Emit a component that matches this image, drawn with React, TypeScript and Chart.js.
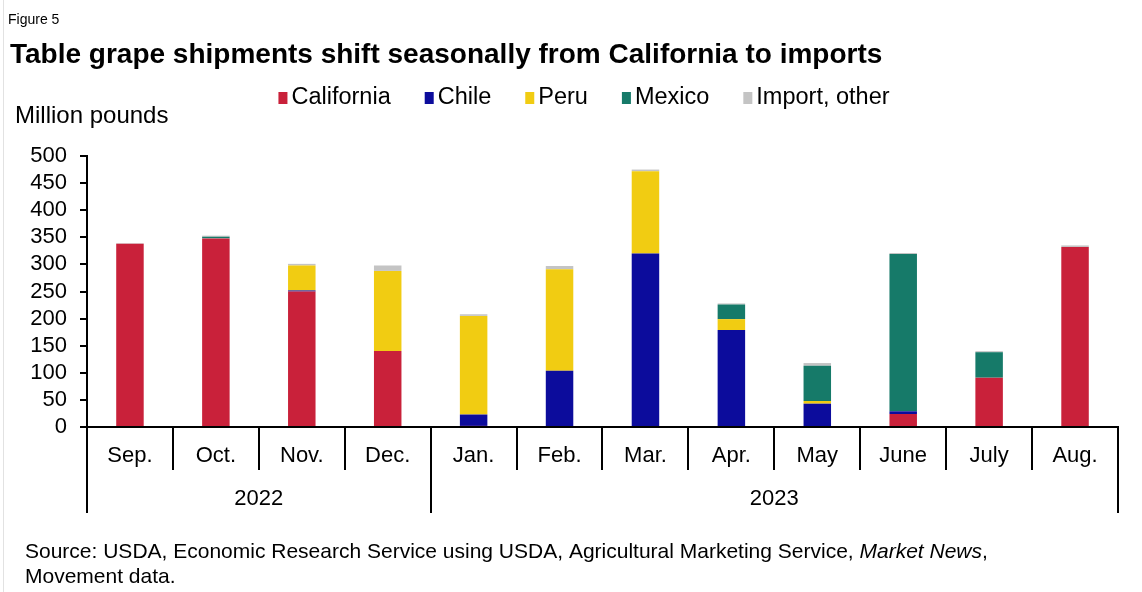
import React, { useEffect, useRef } from "react";
import { Chart, registerables } from "chart.js";

Chart.register(...registerables);

const months = ["Sep.", "Oct.", "Nov.", "Dec.", "Jan.", "Feb.", "Mar.", "Apr.", "May", "June", "July", "Aug."];
const years = ["2022", "2023"];
const yearSpans = [4, 8];

const seriesNames = ["California", "Chile", "Peru", "Mexico", "Import, other"];
const california = [338, 348, 250, 140, 2, 0, 0, 0, 0, 24, 91, 332];
const chile = [0, 0, 2, 0, 21, 104, 320, 179, 43, 5, 0, 0];
const peru = [0, 0, 46, 148, 182, 187, 152, 20, 5, 0, 0, 0];
const mexico = [0, 3, 0, 0, 0, 0, 0, 27, 65, 290, 47, 0];
const importOther = [1, 2, 3, 10, 3, 6, 3, 2, 5, 2, 2, 3];
const seriesColors = ["#c9213a", "#0c0c9c", "#f1cc12", "#167a69", "#c4c4c4"];

const yMin = 0;
const yMax = 500;
const yStep = 50;

const figureLabel = "Figure 5";
const titleText = "Table grape shipments shift seasonally from California to imports";
const yAxisLabel = "Million pounds";
const sourceLine1a = "Source: USDA, Economic Research Service using USDA, Agricultural Marketing Service, ";
const sourceLine1b = "Market News";
const sourceLine1c = ",";
const sourceLine2 = "Movement data.";

const FONT = "'Liberation Sans', Arial, sans-serif";

const decorPlugin = {
  id: "decor",
  afterDraw(chart: any) {
    const ctx = chart.ctx as CanvasRenderingContext2D;
    const area = chart.chartArea;
    const xs = chart.scales.x;
    ctx.save();

    // faint left frame line
    ctx.strokeStyle = "#e2e2e2";
    ctx.lineWidth = 1;
    ctx.beginPath();
    ctx.moveTo(3.5, 0);
    ctx.lineTo(3.5, 592);
    ctx.stroke();

    ctx.fillStyle = "#000";
    ctx.textBaseline = "middle";
    ctx.textAlign = "left";
    ctx.font = `14px ${FONT}`;
    ctx.fillText(figureLabel, 8, 20);
    ctx.font = `bold 28px ${FONT}`;
    ctx.fillText(titleText, 10, 55);

    // legend
    ctx.font = `23.5px ${FONT}`;
    const boxW = 9, boxH = 12, gapText = 4, gapItem = 34;
    const widths = seriesNames.map((s) => ctx.measureText(s).width);
    const total = widths.reduce((a, w) => a + boxW + gapText + w, 0) + gapItem * (seriesNames.length - 1);
    let lx = 584 - total / 2;
    const ly = 98;
    seriesNames.forEach((s, i) => {
      ctx.fillStyle = seriesColors[i];
      ctx.fillRect(lx, ly - boxH / 2, boxW, boxH);
      ctx.fillStyle = "#000";
      ctx.fillText(s, lx + boxW + gapText, ly);
      lx += boxW + gapText + widths[i] + gapItem;
    });

    ctx.font = `24px ${FONT}`;
    ctx.fillText(yAxisLabel, 15, 116);

    // category separators
    const n = months.length;
    const step = (area.right - area.left) / n;
    const boundary = (i: number) => (i < n ? xs.getPixelForValue(i) - step / 2 : xs.getPixelForValue(n - 1) + step / 2);
    const yearEdges = new Set<number>();
    let acc = 0;
    yearEdges.add(0);
    yearSpans.forEach((s) => { acc += s; yearEdges.add(acc); });
    ctx.strokeStyle = "#000";
    ctx.lineWidth = 2;
    for (let i = 0; i <= n; i++) {
      const x = Math.round(boundary(i));
      const len = yearEdges.has(i) ? 86 : 43;
      ctx.beginPath();
      ctx.moveTo(x, area.bottom);
      ctx.lineTo(x, area.bottom + len);
      ctx.stroke();
    }
    // year labels
    ctx.font = `22px ${FONT}`;
    ctx.textAlign = "center";
    let start = 0;
    years.forEach((yr, k) => {
      const end = start + yearSpans[k];
      const cx = (boundary(start) + boundary(end)) / 2;
      ctx.fillText(yr, cx, area.bottom + 72);
      start = end;
    });

    // source
    ctx.textAlign = "left";
    ctx.font = `21px ${FONT}`;
    let sx = 25;
    ctx.fillText(sourceLine1a, sx, 552);
    sx += ctx.measureText(sourceLine1a).width;
    ctx.font = `italic 21px ${FONT}`;
    ctx.fillText(sourceLine1b, sx, 552);
    sx += ctx.measureText(sourceLine1b).width;
    ctx.font = `21px ${FONT}`;
    ctx.fillText(sourceLine1c, sx, 552);
    ctx.fillText(sourceLine2, 25, 577);
    ctx.restore();
  },
};

export default function App() {
  const ref = useRef<HTMLCanvasElement | null>(null);
  useEffect(() => {
    if (!ref.current) return;
    const seriesData = [california, chile, peru, mexico, importOther];
    const chart = new Chart(ref.current, {
      type: "bar",
      data: {
        labels: months,
        datasets: seriesNames.map((name, i) => ({
          label: name,
          data: seriesData[i],
          backgroundColor: seriesColors[i],
          borderWidth: 0,
          barPercentage: 0.32,
          categoryPercentage: 1.0,
        })),
      },
      options: {
        responsive: false,
        animation: false,
        devicePixelRatio: 1,
        layout: { padding: { top: 156, left: 0, right: 24, bottom: 0 } },
        plugins: {
          legend: { display: false },
          title: { display: false },
          tooltip: { enabled: false },
        },
        scales: {
          x: {
            stacked: true,
            grid: { display: false, drawTicks: false },
            border: { display: true, color: "#000", width: 2 },
            ticks: { color: "#000", font: { family: FONT, size: 22 }, padding: 16, maxRotation: 0, autoSkip: false },
            afterFit: (scale: any) => { scale.height = 165; },
          },
          y: {
            stacked: true,
            min: yMin,
            max: yMax,
            grid: { display: true, drawOnChartArea: false, drawTicks: true, tickLength: 7, color: "#000", lineWidth: 2 },
            border: { display: true, color: "#000", width: 2 },
            ticks: { stepSize: yStep, color: "#000", font: { family: FONT, size: 22 }, padding: 13, autoSkip: false },
            afterFit: (scale: any) => { scale.width = 87; },
          },
        },
      },
      plugins: [decorPlugin],
    });
    return () => chart.destroy();
  }, []);
  return (
    <div style={{ position: "absolute", left: 0, top: 0, width: 1142, height: 592, background: "#fff" }}>
      <canvas ref={ref} width={1142} height={592} style={{ width: 1142, height: 592 }} />
    </div>
  );
}
